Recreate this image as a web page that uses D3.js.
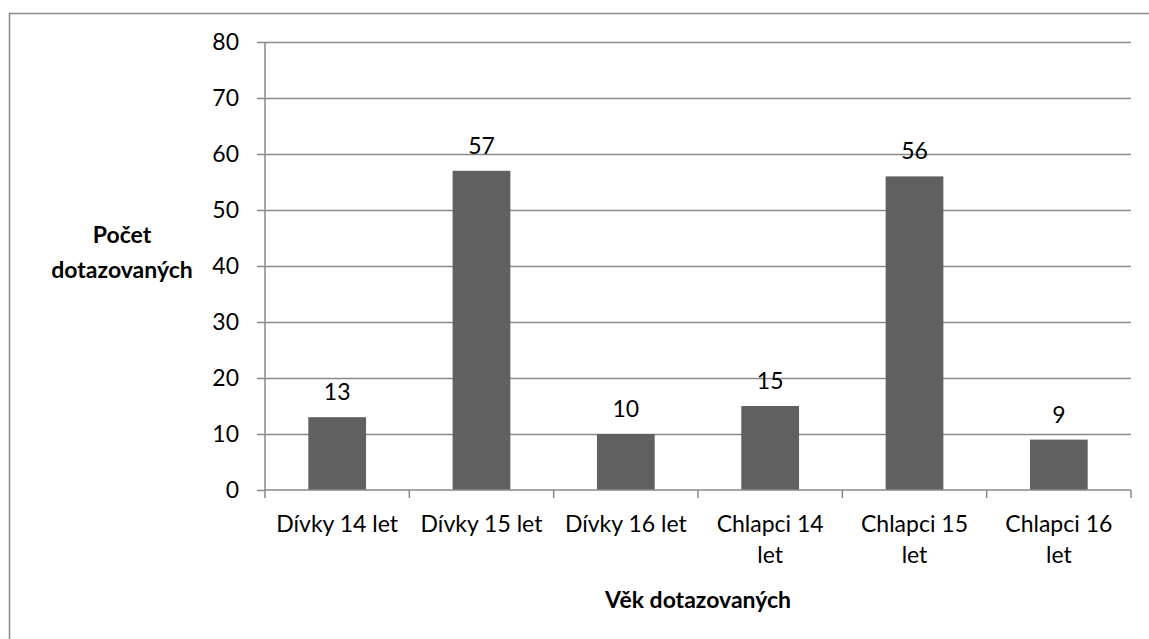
<!DOCTYPE html>
<html>
<head>
<meta charset="utf-8">
<script src="https://cdn.jsdelivr.net/npm/d3@7"></script>
<style>
  body { margin: 0; background: #fff; }
  text { font-family: Lato, "Open Sans", sans-serif; fill: #000; }
</style>
</head>
<body>
<div id="chart"></div>
<script>
// data
var categories = ["Dívky 14 let", "Dívky 15 let", "Dívky 16 let", "Chlapci 14 let", "Chlapci 15 let", "Chlapci 16 let"];
var counts = [13, 57, 10, 15, 56, 9];
var yTicks = [0, 10, 20, 30, 40, 50, 60, 70, 80];

function main(){
    buildChart(categories, counts);
}

function buildChart(categories, counts){
    var W = 1149, H = 639;
    var fs = "23px";
    var margin = {top: 42, right: 18, bottom: 149, left: 265},
        width = W - margin.left - margin.right,
        height = H - margin.top - margin.bottom;

    var svg = d3.select("#chart")
        .append("svg")
            .attr("width", W)
            .attr("height", H);

    // outer frame
    svg.append("rect")
        .attr("x", 9.5).attr("y", 13.5)
        .attr("width", W + 20).attr("height", H + 20)
        .attr("fill", "none")
        .attr("stroke", "#888")
        .attr("stroke-width", 1.5);

    var g = svg.append("g")
        .attr("transform", "translate(" + margin.left + "," + margin.top + ")");

    var xScale = d3.scaleBand().range([0, width]).domain(categories).paddingInner(0.6).paddingOuter(0.3);
    var xBand = d3.scaleBand().range([0, width]).domain(categories);
    var yScale = d3.scaleLinear().range([height, 0]).domain([0, 80]);

    // gridlines
    g.selectAll(".grid")
        .data(yTicks.filter(function(d){ return d > 0; }))
        .enter().append("line")
        .attr("x1", 0).attr("x2", width)
        .attr("y1", function(d){ return Math.round(yScale(d)) + 0.5; })
        .attr("y2", function(d){ return Math.round(yScale(d)) + 0.5; })
        .attr("stroke", "#888")
        .attr("stroke-width", 1.5);

    // bars
    g.selectAll(".bar")
        .data(counts)
        .enter().append("rect")
        .attr("x", function(d, i){ return xScale(categories[i]); })
        .attr("y", function(d){ return yScale(d); })
        .attr("width", xScale.bandwidth())
        .attr("height", function(d){ return height - yScale(d); })
        .attr("fill", "#606060");

    // value labels
    g.selectAll(".val")
        .data(counts)
        .enter().append("text")
        .attr("x", function(d, i){ return xBand(categories[i]) + xBand.bandwidth() / 2; })
        .attr("y", function(d){ return yScale(d) - 17; })
        .attr("text-anchor", "middle")
        .style("font-size", fs)
        .text(function(d){ return d; });

    // y axis
    var yAxis = g.append("g")
        .call(d3.axisLeft(yScale).tickValues(yTicks).tickSize(8).tickPadding(18));
    yAxis.select(".domain").attr("stroke", "#888").attr("stroke-width", 1.5).attr("d", "M0," + height + "V0");
    yAxis.selectAll(".tick line").attr("stroke", "#888").attr("stroke-width", 1.5);
    yAxis.selectAll("text").style("font-size", fs).style("font-family", "Lato, 'Open Sans', sans-serif");

    // x axis
    var xAxis = g.append("g")
        .attr("transform", "translate(0," + height + ")")
        .call(d3.axisBottom(xBand).tickSize(0).tickFormat(""));
    xAxis.select(".domain").attr("stroke", "#888").attr("stroke-width", 1.5).attr("d", "M0,0H" + width);
    xAxis.selectAll(".xt")
        .data(d3.range(categories.length + 1))
        .enter().append("line")
        .attr("x1", function(i){ return i * xBand.step(); })
        .attr("x2", function(i){ return i * xBand.step(); })
        .attr("y1", 0).attr("y2", 8)
        .attr("stroke", "#888").attr("stroke-width", 1.5);

    // category labels (wrap long ones)
    categories.forEach(function(c, i){
        var lines = c.length > 12 ? [c.slice(0, c.lastIndexOf(" ")), c.slice(c.lastIndexOf(" ") + 1)] : [c];
        var t = g.append("text")
            .attr("text-anchor", "middle")
            .style("font-size", fs)
            .attr("transform", "translate(" + (xBand(c) + xBand.bandwidth() / 2) + "," + (height + 42) + ")");
        lines.forEach(function(l, j){
            t.append("tspan").attr("x", 0).attr("dy", j === 0 ? 0 : 31).text(l);
        });
    });

    // axis titles
    svg.append("text")
        .attr("x", margin.left + width / 2)
        .attr("y", 608)
        .attr("text-anchor", "middle")
        .style("font-size", "23px")
        .style("font-weight", "bold")
        .text("Věk dotazovaných");

    var yt = svg.append("text")
        .attr("text-anchor", "middle")
        .style("font-size", "23px")
        .style("font-weight", "bold");
    yt.append("tspan").attr("x", 122).attr("y", 243).text("Počet");
    yt.append("tspan").attr("x", 122).attr("y", 278).text("dotazovaných");
}

main();
</script>
</body>
</html>
